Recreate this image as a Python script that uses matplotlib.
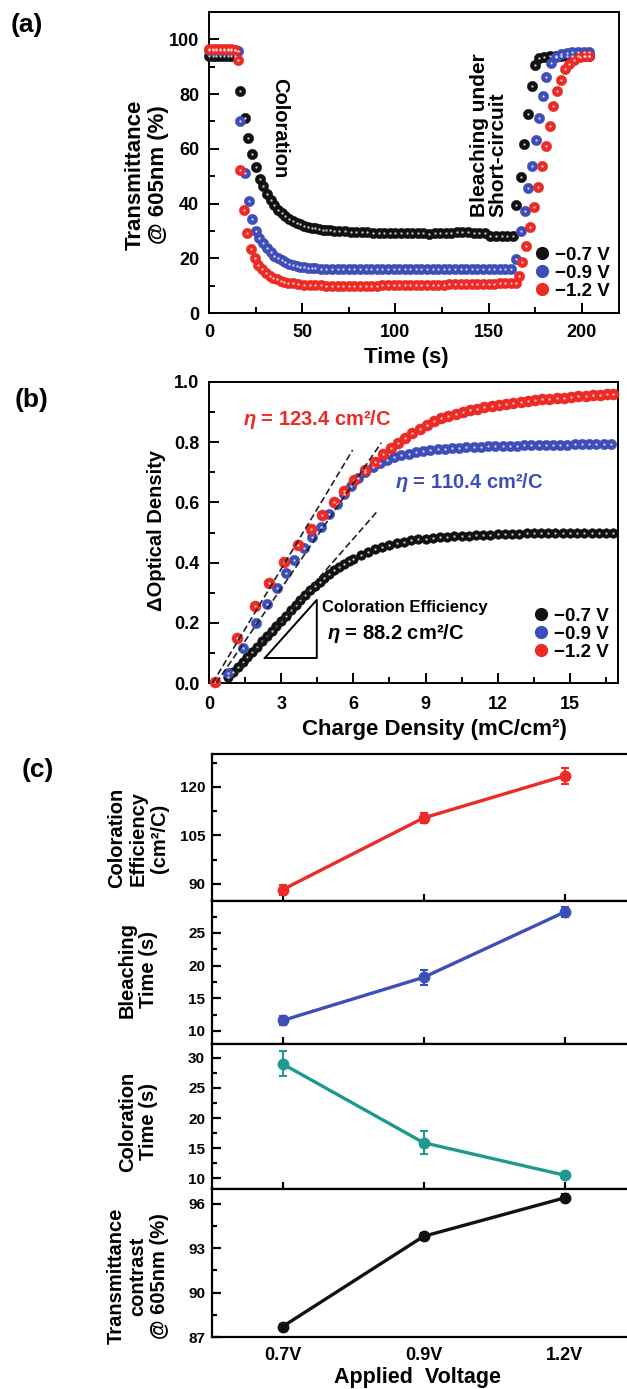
import numpy as np
import matplotlib
matplotlib.use("Agg")
import matplotlib.pyplot as plt
from matplotlib.lines import Line2D
from matplotlib.ticker import MultipleLocator

plt.rcParams['font.family'] = ['Liberation Sans', 'DejaVu Sans']
plt.rcParams['font.weight'] = 'bold'
plt.rcParams['mathtext.fontset'] = 'custom'
plt.rcParams['mathtext.it'] = 'Liberation Sans:italic:bold'
plt.rcParams['mathtext.rm'] = 'Liberation Sans:bold'

RED = '#ec2a26'
BLUE = '#3d4eb8'
BLACK = '#111111'
TEAL = '#1f9990'

# ---------------- (a) transmittance vs time ----------------
t_black = [0, 2, 4, 6, 8, 10, 12, 14, 16.6, 19.3, 21.1, 22.9, 25.2, 27.4, 29, 31, 33, 35, 37, 39,
           41, 43, 45, 47, 49, 51, 53, 55, 57, 59, 61, 63, 65, 67, 70, 73, 76, 79, 82, 85,
           88, 91, 94, 97, 100, 103, 106, 109, 112, 115, 118, 121, 124, 127, 130, 133, 136, 139, 142, 145,
           148, 151, 154, 157, 160, 163, 164.6, 167.3, 168.9, 171.0, 173.2, 174.8, 177, 180, 183, 186,
           189, 192, 195, 198, 201, 204]
T_black = [94.0, 94.0, 94.0, 94.0, 94.0, 94.0, 94.0, 93.8, 81.0, 71.2, 63.8, 58.1, 53.4, 49.1, 46.5, 43.6, 41.3, 39.3, 37.8, 36.5,
           35.4, 34.4, 33.6, 33.0, 32.4, 31.9, 31.5, 31.2, 30.9, 30.7, 30.5, 30.3, 30.2, 30.0, 29.9, 29.8, 29.7, 29.6, 29.6, 29.5,
           29.4, 29.4, 29.3, 29.3, 29.2, 29.2, 29.2, 29.1, 29.1, 29.1, 29.0, 29.1, 29.2, 29.3, 29.4, 29.5, 29.5, 29.5, 29.4, 29.3,
           29.2, 28.3, 28.1, 28.0, 28.0, 28.1, 39.3, 49.8, 61.8, 72.8, 83.1, 90.8, 93.2, 93.6, 93.8, 93.9,
           94.0, 94.0, 94.0, 94.0, 94.0, 94.0]

t_blue = [0, 2, 4, 6, 8, 10, 12, 14, 15.5, 16.6, 19.2, 21.3, 23.1, 25.2, 27, 29, 31, 33, 35, 37,
          39, 41, 43, 45, 47, 49, 51, 53, 55, 57, 60, 63, 66, 69, 72, 75, 78, 81, 84, 87,
          90, 93, 96, 99, 102, 105, 108, 111, 114, 117, 120, 123, 126, 129, 132, 135, 138, 141, 144, 147,
          150, 153, 156, 159, 162, 164.6, 167.3, 169.4, 171.0, 173.2, 175.3, 177.0, 179.0, 180.7, 183.4, 186,
          189, 192, 195, 198, 201, 204]
T_blue = [96.0, 96.0, 96.0, 96.0, 96.0, 96.0, 96.0, 96.0, 95.7, 70.0, 51.0, 40.8, 34.2, 30.1, 27.5, 25.4, 23.6, 22.2, 21.0, 20.0,
          19.2, 18.5, 18.0, 17.5, 17.2, 16.9, 16.7, 16.5, 16.4, 16.3, 16.2, 16.1, 16.1, 16.0, 16.0, 16.0, 16.1, 16.0, 15.9, 16.0,
          16.0, 16.0, 15.9, 16.0, 16.0, 16.0, 16.1, 16.0, 16.0, 15.9, 16.0, 16.0, 16.0, 16.0, 16.0, 16.0, 15.9, 16.0, 16.0, 16.0,
          16.0, 16.0, 16.0, 16.0, 16.0, 19.7, 30.1, 37.2, 45.5, 53.8, 63.2, 71.2, 79.2, 86.3, 91.4, 93.5,
          94.5, 95.0, 95.2, 95.3, 95.3, 95.2]

t_red = [0, 2, 4, 6, 8, 10, 12, 14, 15.5, 16.6, 18.8, 20.5, 22.6, 24.5, 26.5, 28.5, 30.5, 32.5, 34.5, 36.5,
         38.5, 40.5, 42.5, 45, 48, 51, 54, 57, 60, 63, 66, 69, 72, 75, 78, 81, 84, 87, 90, 93,
         96, 99, 102, 105, 108, 111, 114, 117, 120, 123, 126, 129, 132, 135, 138, 141, 144, 147, 150, 153,
         156, 159, 162, 164.5, 166.3, 167.8, 170.0, 172.1, 174.3, 176.4, 178.6, 180.7, 182.8, 184.5, 186.6, 188.7,
         190.9, 193, 196, 199, 202, 204]
T_red = [96.3, 96.3, 96.3, 96.3, 96.3, 96.3, 96.3, 96.0, 92.6, 52.2, 37.5, 29.2, 23.4, 20.0, 17.6, 15.9, 14.7, 13.7, 12.9, 12.3,
         11.8, 11.4, 11.1, 10.8, 10.6, 10.4, 10.3, 10.2, 10.1, 10.0, 10.0, 9.9, 9.8, 9.9, 9.9, 10.0, 10.0, 10.0, 10.0, 10.1,
         10.1, 10.1, 10.2, 10.2, 10.2, 10.3, 10.3, 10.3, 10.4, 10.4, 10.4, 10.5, 10.5, 10.5, 10.6, 10.6, 10.6, 10.7, 10.7, 10.7,
         10.8, 10.8, 10.9, 11.0, 13.6, 18.5, 24.6, 31.4, 38.7, 46.1, 53.8, 61.1, 68.4, 75.5, 81.0, 85.3,
         89.0, 91.0, 92.6, 93.4, 93.8, 94.0]

# ---------------- (b) optical density vs charge density ----------------
q_red = [0.25, 1.15, 1.91, 2.50, 3.11, 3.70, 4.23, 4.71, 5.18, 5.61, 6.01, 6.47, 6.88, 7.23, 7.55, 7.85,
         8.15, 8.45, 8.75, 9.05, 9.35, 9.65, 9.95, 10.25, 10.55, 10.85, 11.15, 11.45, 11.75, 12.05, 12.35,
         12.65, 12.95, 13.25, 13.55, 13.85, 14.15, 14.45, 14.75, 15.05, 15.35, 15.65, 15.95, 16.25, 16.55, 16.8]
od_red = [0.004, 0.148, 0.256, 0.331, 0.401, 0.458, 0.510, 0.557, 0.601, 0.638, 0.674, 0.708, 0.735, 0.760, 0.780, 0.798,
          0.814, 0.830, 0.845, 0.858, 0.869, 0.879, 0.887, 0.894, 0.900, 0.906, 0.911, 0.916, 0.920, 0.924, 0.928,
          0.931, 0.934, 0.937, 0.940, 0.942, 0.944, 0.946, 0.948, 0.950, 0.952, 0.954, 0.956, 0.958, 0.959, 0.960]

q_blue = [0.80, 1.42, 1.94, 2.41, 2.82, 3.18, 3.55, 3.93, 4.29, 4.66, 5.0, 5.3, 5.6, 5.9, 6.2, 6.5,
          6.8, 7.1, 7.4, 7.7, 8.0, 8.3, 8.6, 8.9, 9.2, 9.5, 9.8, 10.1, 10.4, 10.7, 11.0, 11.3,
          11.6, 11.9, 12.2, 12.5, 12.8, 13.1, 13.4, 13.7, 14.0, 14.3, 14.6, 14.9, 15.2, 15.5, 15.8, 16.1,
          16.4, 16.7]
od_blue = [0.032, 0.115, 0.198, 0.262, 0.317, 0.364, 0.409, 0.447, 0.486, 0.519, 0.560, 0.595, 0.627, 0.656, 0.682, 0.702,
           0.719, 0.732, 0.742, 0.750, 0.757, 0.762, 0.766, 0.770, 0.773, 0.776, 0.778, 0.780, 0.782, 0.783, 0.784, 0.785,
           0.786, 0.787, 0.788, 0.789, 0.789, 0.790, 0.790, 0.791, 0.791, 0.792, 0.792, 0.792, 0.793, 0.793, 0.793, 0.794,
           0.794, 0.794]

q_black = [0.8, 1.0, 1.2, 1.4, 1.6, 1.8, 2.0, 2.2, 2.4, 2.6, 2.8, 3.0, 3.2, 3.4, 3.6, 3.8,
           4.0, 4.2, 4.4, 4.6, 4.8, 5.0, 5.2, 5.4, 5.6, 5.8, 6.0, 6.3, 6.6, 6.9, 7.2, 7.5,
           7.8, 8.1, 8.4, 8.7, 9.0, 9.3, 9.6, 9.9, 10.2, 10.5, 10.8, 11.1, 11.4, 11.7, 12.0, 12.3,
           12.6, 12.9, 13.2, 13.5, 13.8, 14.1, 14.4, 14.7, 15.0, 15.3, 15.6, 15.9, 16.2, 16.5, 16.8]
od_black = [0.020, 0.036, 0.053, 0.070, 0.087, 0.104, 0.121, 0.138, 0.155, 0.172, 0.190, 0.207, 0.224, 0.241, 0.258, 0.275,
            0.292, 0.308, 0.323, 0.337, 0.350, 0.362, 0.374, 0.385, 0.395, 0.404, 0.413, 0.425, 0.436, 0.445, 0.453, 0.459,
            0.465, 0.470, 0.474, 0.477, 0.480, 0.482, 0.484, 0.486, 0.488, 0.489, 0.490, 0.491, 0.492, 0.493, 0.494, 0.495,
            0.495, 0.496, 0.497, 0.497, 0.498, 0.498, 0.499, 0.499, 0.500, 0.500, 0.500, 0.500, 0.500, 0.500, 0.500]

# linear fits (start / end points of dashed guides)
fit_red_x, fit_red_y = [0.15, 5.97], [0.0, 0.774]
fit_blue_x, fit_blue_y = [0.3, 7.16], [0.0, 0.798]
fit_black_x, fit_black_y = [0.75, 6.97], [0.0, 0.568]
tri_x = [2.32, 4.48, 4.48, 2.32]
tri_y = [0.083, 0.083, 0.276, 0.083]

legend_labels = ['\u22120.7 V', '\u22120.9 V', '\u22121.2 V']

# ---------------- (c) summary vs applied voltage ----------------
voltages = ['0.7V', '0.9V', '1.2V']
ce = [88.2, 110.4, 123.4]
ce_err = [1.6, 1.6, 2.4]
bleach = [11.6, 18.2, 28.2]
bleach_err = [0.7, 1.2, 0.8]
color_t = [29.0, 15.9, 10.5]
color_t_err = [2.1, 1.9, 0.6]
contrast = [87.7, 93.8, 96.4]
contrast_err = [0.2, 0.25, 0.25]

W, H = 627, 1389
fig = plt.figure(figsize=(W / 100, H / 100), dpi=100)


def px_axes(left, right, top, bottom):
    return fig.add_axes([left / W, 1 - bottom / H, (right - left) / W, (bottom - top) / H])


def ball(ax, x, y, color, ms=7.5, z=3):
    ax.plot(x, y, 'o', color=color, ms=ms, mec=color, mew=0.3, zorder=z, clip_on=False)
    ax.plot(x, y, 'o', color='white', ms=1.7, mew=0, alpha=0.75, zorder=z + 0.1, clip_on=False)


def style(ax, size=13, major=7.5, minor=4, lw=1.4):
    for s in ax.spines.values():
        s.set_linewidth(lw)
    ax.tick_params(which='both', direction='in', width=lw, labelsize=size)
    ax.tick_params(which='major', length=major)
    ax.tick_params(which='minor', length=minor)
    for lab in ax.get_xticklabels() + ax.get_yticklabels():
        lab.set_fontweight('bold')


# ----- panel (a)
ax = px_axes(209, 619, 12, 313)
ball(ax, t_black, T_black, BLACK)
ball(ax, t_blue, T_blue, BLUE)
ball(ax, t_red, T_red, RED)
ax.set_xlim(0, 220)
ax.set_ylim(0, 110)
ax.xaxis.set_major_locator(MultipleLocator(50))
ax.xaxis.set_minor_locator(MultipleLocator(25))
ax.yaxis.set_major_locator(MultipleLocator(20))
ax.yaxis.set_minor_locator(MultipleLocator(10))
style(ax)
ax.tick_params(axis='x', pad=8)
ax.tick_params(axis='y', pad=7)
ax.text(38, 67.5, 'Coloration', rotation=-90, ha='center', va='center', fontsize=14.5, fontweight='bold')
ax.text(150, 35, 'Bleaching under\nShort-circuit', rotation=90, ha='center', va='bottom',
        multialignment='left', fontsize=15, fontweight='bold', linespacing=1.0)
handles = [Line2D([], [], marker='o', ls='none', color=c, ms=8.5) for c in (BLACK, BLUE, RED)]
ax.legend(handles, legend_labels, loc='lower right', bbox_to_anchor=(1.01, 0.0), frameon=False,
          handletextpad=-0.1, labelspacing=0.05, borderaxespad=0.3, handlelength=1.6,
          prop={'weight': 'bold', 'size': 13.5})
fig.text(147 / W, 1 - 175 / H, 'Transmittance\n@ 605nm (%)', rotation=90, ha='center', va='center',
         fontsize=16, fontweight='bold', linespacing=1.1)
fig.text(406 / W, 1 - 358 / H, 'Time (s)', ha='center', va='center', fontsize=16, fontweight='bold')
fig.text(27 / W, 1 - 25 / H, '(a)', ha='center', va='center', fontsize=19, fontweight='bold')

# ----- panel (b)
ax = px_axes(209, 618, 382, 683)
ball(ax, q_black, od_black, BLACK, ms=7)
ball(ax, q_blue, od_blue, BLUE, ms=7.5)
ball(ax, q_red, od_red, RED, ms=8)
for fx, fy in ((fit_red_x, fit_red_y), (fit_blue_x, fit_blue_y), (fit_black_x, fit_black_y)):
    ax.plot(fx, fy, ls=(0, (4, 2)), color='#222222', lw=1.2, zorder=5)
ax.plot(tri_x, tri_y, color='black', lw=1.4, zorder=5)
ax.set_xlim(0, 17)
ax.set_ylim(0, 1.0)
ax.xaxis.set_major_locator(MultipleLocator(3))
ax.xaxis.set_minor_locator(MultipleLocator(1.5))
ax.yaxis.set_major_locator(MultipleLocator(0.2))
ax.yaxis.set_minor_locator(MultipleLocator(0.1))
ax.yaxis.set_major_formatter(matplotlib.ticker.FormatStrFormatter('%.1f'))
style(ax)
ax.tick_params(axis='x', pad=9)
ax.tick_params(axis='y', pad=7)
ax.text(1.4, 0.875, r'$\eta$ = 123.4 cm²/C', color=RED, fontsize=14.5, fontweight='bold', va='center')
ax.text(7.75, 0.665, r'$\eta$ = 110.4 cm²/C', color=BLUE, fontsize=14.5, fontweight='bold', va='center')
ax.text(4.7, 0.252, 'Coloration Efficiency', fontsize=12, fontweight='bold', va='center')
ax.text(4.9, 0.166, r'$\eta$ = 88.2 cm²/C', fontsize=14.5, fontweight='bold', va='center')
ax.legend(handles, legend_labels, loc='lower right', bbox_to_anchor=(1.01, 0.03), frameon=False,
          handletextpad=-0.1, labelspacing=0.05, borderaxespad=0.3, handlelength=1.6,
          prop={'weight': 'bold', 'size': 13.5})
fig.text(157 / W, 1 - 531 / H, '\u0394Optical Density', rotation=90, ha='center', va='center',
         fontsize=14.5, fontweight='bold')
fig.text(434 / W, 1 - 729 / H, 'Charge Density (mC/cm²)', ha='center', va='center', fontsize=16,
         fontweight='bold')
fig.text(32 / W, 1 - 400 / H, '(b)', ha='center', va='center', fontsize=19, fontweight='bold')

# ----- panel (c)
rows = [
    (754, 901, ce, ce_err, RED, (84.7, 130.2), 15, 'Coloration\nEfficiency\n(cm²/C)', 838),
    (901, 1044, bleach, bleach_err, BLUE, (8.0, 29.9), 5, 'Bleaching\nTime (s)', 970),
    (1044, 1189, color_t, color_t_err, TEAL, (8.2, 32.3), 5, 'Coloration\nTime (s)', 1122),
    (1189, 1337, contrast, contrast_err, BLACK, (87, 97.0), 3, 'Transmittance\ncontrast\n@ 605nm (%)', 1276),
]
xpos = np.arange(len(voltages))
for i, (top, bot, vals, errs, col, ylim, step, lab, ly) in enumerate(rows):
    ax = px_axes(212, 635, top, bot)
    ax.errorbar(xpos, vals, yerr=errs, color=col, lw=2.4, marker='o', ms=7.5, capsize=3, capthick=1.5,
                elinewidth=1.5, clip_on=False, zorder=3)
    ax.set_xlim(-0.5, 2.5)
    ax.set_ylim(*ylim)
    ax.yaxis.set_major_locator(MultipleLocator(step))
    ax.yaxis.set_minor_locator(MultipleLocator(step / 2))
    ax.set_xticks(xpos)
    ax.set_xticklabels(voltages)
    style(ax, size=11, major=6.5, minor=3.5, lw=1.6)
    ax.tick_params(axis='y', pad=5)
    ax.tick_params(axis='x', which='major', length=5)
    ax.spines['right'].set_visible(False)
    if i < 3:
        ax.tick_params(axis='x', labelbottom=False)
    else:
        ax.tick_params(axis='x', labelsize=13, pad=7, length=0)
    fig.text(138 / W, 1 - ly / H, lab, rotation=90, ha='center', va='center', fontsize=14.5,
             fontweight='bold', linespacing=1.15)

fig.text(418 / W, 1 - 1378 / H, 'Applied  Voltage', ha='center', va='center', fontsize=15.5,
         fontweight='bold')
fig.text(38 / W, 1 - 770 / H, '(c)', ha='center', va='center', fontsize=19, fontweight='bold')

fig.savefig('out.png', dpi=100)
